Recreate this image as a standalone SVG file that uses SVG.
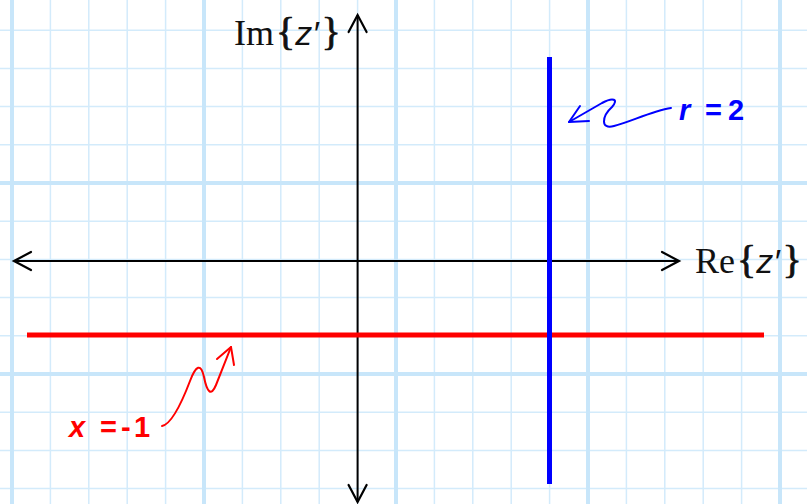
<svg xmlns="http://www.w3.org/2000/svg" width="807" height="504" viewBox="0 0 807 504">
<style>
.g{stroke:#d3ebfb;stroke-width:1.5;fill:none}
.G{stroke:#c8e6fa;stroke-width:4;fill:none}
.ax{stroke:#000;stroke-width:2;fill:none}
.ah{stroke:#000;stroke-width:2.2;fill:none;stroke-linecap:round;stroke-linejoin:miter}
.serif{font-family:"Liberation Serif","Times New Roman",serif;font-size:36px;fill:#111}
.br{font-size:40px;stroke:#111;stroke-width:0.8}
.z{font-family:"Liberation Sans",Arial,sans-serif;font-style:italic;font-size:34px}
.lbl{font-family:"Liberation Sans",Arial,sans-serif;font-weight:bold;font-size:29px}
</style>
<rect width="807" height="504" fill="#fff"/>
<g id="grid">
<path class="g" d="M50.4 0V504M88.8 0V504M127.2 0V504M165.6 0V504M242.4 0V504M280.8 0V504M319.2 0V504M357.6 0V504M434.4 0V504M472.8 0V504M511.2 0V504M549.6 0V504M626.4 0V504M664.8 0V504M703.2 0V504M741.6 0V504"/>
<path class="g" d="M0 30.2H807M0 68.4H807M0 106.6H807M0 144.8H807M0 221.2H807M0 259.4H807M0 297.6H807M0 335.8H807M0 412.2H807M0 450.4H807M0 488.6H807"/>
<path class="G" d="M12 0V504M204 0V504M396 0V504M588 0V504M780 0V504M0 183H807M0 374H807"/>
</g>
<g id="connectors">
<line class="ax" x1="14" y1="261" x2="679" y2="261"/>
<line class="ax" x1="357.6" y1="15" x2="357.6" y2="502"/>
<path class="ah" d="M31 252L14 261L31 270"/>
<path class="ah" d="M662 252L679 261L662 270"/>
<path class="ah" d="M348.6 32L357.6 15L366.6 32"/>
<path class="ah" d="M348.6 485L357.6 502L366.6 485"/>
<path d="M671 108C652 111 630 122 614 126C600 130 602 116 612 107C619 99 613 97 602 103L569 122" stroke="#0000ff" stroke-width="2" fill="none" stroke-linecap="round"/>
<path d="M580 106L569 122L589 121" stroke="#0000ff" stroke-width="2" fill="none" stroke-linecap="round" stroke-linejoin="round"/>
<path d="M162 426C172 424 182 402 190 381C196 365 201 363 204 377C207 392 211 397 216 385L231 347" stroke="#ff0000" stroke-width="2" fill="none" stroke-linecap="round"/>
<path d="M217 359L231 347L234 365" stroke="#ff0000" stroke-width="2" fill="none" stroke-linecap="round" stroke-linejoin="round"/>
</g>
<g id="lineX">
<line x1="27" y1="335" x2="764" y2="335" stroke="#ff0000" stroke-width="5"/>
</g>
<g id="lineR">
<line x1="549.5" y1="57" x2="549.5" y2="484" stroke="#0000ff" stroke-width="5"/>
</g>
<g id="imLabel">
<text class="serif" x="234" y="45">Im<tspan class="br" dx="2">{</tspan><tspan class="z" dx="0">z′</tspan><tspan class="br" dx="3">}</tspan></text>
</g>
<g id="reLabel">
<text class="serif" x="695" y="273">Re<tspan class="br" dx="2">{</tspan><tspan class="z" dx="0">z′</tspan><tspan class="br" dx="3">}</tspan></text>
</g>
<g id="rLabel">
<text class="lbl" fill="#0000ff" y="120"><tspan x="679" font-style="italic">r</tspan><tspan x="705">=</tspan><tspan x="728">2</tspan></text>
</g>
<g id="xLabel">
<text class="lbl" fill="#ff0000" y="437"><tspan x="69" font-style="italic">x</tspan><tspan x="100">=</tspan><tspan x="121">-</tspan><tspan x="134">1</tspan></text>
</g>
</svg>
